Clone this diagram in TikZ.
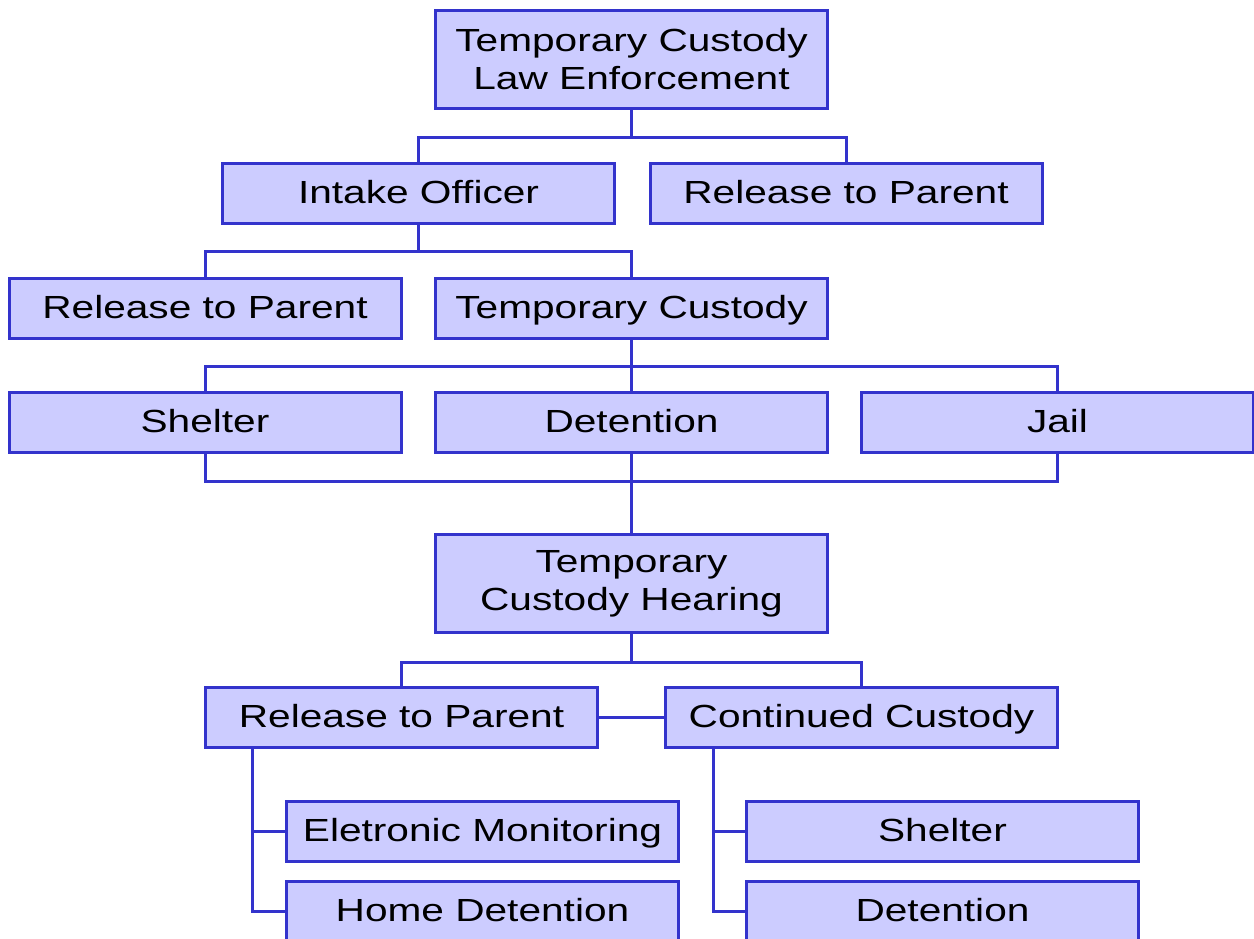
\documentclass[tikz,border=0pt]{standalone}
\usepackage{fontspec}
\setmainfont[FakeStretch=1.27]{Liberation Sans}
\definecolor{boxfill}{HTML}{CCCCFF}
\definecolor{boxline}{HTML}{3333CC}
\begin{document}
\begin{tikzpicture}[x=1pt, y=-1pt, line width=3pt,
  box/.style={draw=boxline, fill=boxfill, inner sep=0pt, minimum width=392pt,
    minimum height=60pt, font=\fontsize{32}{38}\selectfont, text height=23pt, text depth=3pt},
  bigbox/.style={draw=boxline, fill=boxfill, inner sep=0pt, minimum width=392pt,
    minimum height=98pt, font=\fontsize{32}{38}\selectfont, align=center},
  link/.style={draw=boxline}]
\useasboundingbox (0,0) rectangle (1254,938);
\clip (0,0) rectangle (1254,938);
\node[bigbox] (P_0_0) at (631.5,59) {Temporary Custody\\Law Enforcement};
\node[box] (P_1_0) at (418.5,193) {Intake Officer};
\node[box] (P_1_1) at (846,193) {Release to Parent};
\draw[link] (P_0_0.south) -- ++(0,28) -| (P_1_0.north);
\draw[link] (P_0_0.south) -- ++(0,28) -| (P_1_1.north);
\node[box] (P_2_0) at (205,308) {Release to Parent};
\node[box] (P_2_1) at (631.5,308) {Temporary Custody};
\draw[link] (P_1_0.south) -- ++(0,27) -| (P_2_0.north);
\draw[link] (P_1_0.south) -- ++(0,27) -| (P_2_1.north);
\node[box] (P_3_0) at (205,422.5) {Shelter};
\node[box] (P_3_1) at (631.5,422.5) {Detention};
\node[box] (P_3_2) at (1057.5,422.5) {Jail};
\draw[link] (P_2_1.south) -- ++(0,27) -| (P_3_0.north);
\draw[link] (P_2_1.south) -- (P_3_1.north);
\draw[link] (P_2_1.south) -- ++(0,27) -| (P_3_2.north);
\node[bigbox] (P_4_0) at (631.5,583.5) {Temporary\\Custody Hearing};
\draw[link] (P_3_0.south) -- ++(0,27) -| (P_3_2.south);
\draw[link] (P_3_1.south) -- (P_4_0.north);
\node[box] (P_5_0) at (401.5,717) {Release to Parent};
\node[box] (P_5_1) at (861.5,717) {Continued Custody};
\draw[link] (P_4_0.south) -- ++(0,28) -| (P_5_0.north);
\draw[link] (P_4_0.south) -- ++(0,28) -| (P_5_1.north);
\draw[link] (P_5_0.east) -- (P_5_1.west);
\node[box] (P_6_0) at (482.5,831.5) {Eletronic Monitoring};
\node[box] (P_7_0) at (482.5,911) {Home Detention};
\draw[link] ([xshift=48pt]P_5_0.south west) |- (P_6_0.west);
\draw[link] ([xshift=48pt]P_5_0.south west) |- (P_7_0.west);
\node[box] (P_6_1) at (942.5,831.5) {Shelter};
\node[box] (P_7_1) at (942.5,911) {Detention};
\draw[link] ([xshift=49pt]P_5_1.south west) |- (P_6_1.west);
\draw[link] ([xshift=49pt]P_5_1.south west) |- (P_7_1.west);
\end{tikzpicture}
\end{document}
